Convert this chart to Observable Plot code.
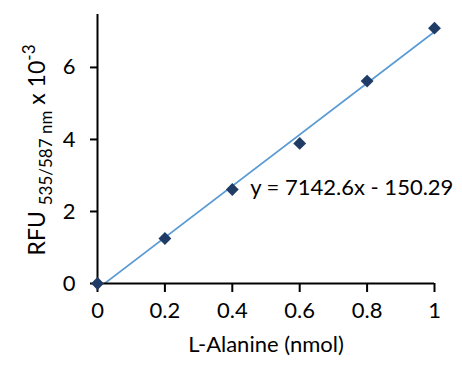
<!DOCTYPE html>
<html>
<head>
<meta charset="utf-8">
<script src="https://cdn.jsdelivr.net/npm/d3@7"></script>
<script src="https://cdn.jsdelivr.net/npm/@observablehq/plot@0.6"></script>
<style>
  html, body { margin: 0; padding: 0; background: #fff; }
  svg { font-family: Lato, "Open Sans", sans-serif; }
</style>
</head>
<body>
<div id="chart"></div>
<script>
const amounts = [0, 0.2, 0.4, 0.6, 0.8, 1.0];          // L-Alanine (nmol)
const rfu = [0, 1.25, 2.61, 3.89, 5.62, 7.09];          // RFU x 10^-3
const xTicks = [0, 0.2, 0.4, 0.6, 0.8, 1];
const yTicks = [0, 2, 4, 6];
const slope = 7142.6, intercept = -150.29;              // trendline (RFU)
const equation = "y = 7142.6x - 150.29";
const eqPos = {x: 0.453, y: 2.66};

const points = amounts.map((x, i) => ({x, y: rfu[i]}));
const trend = [0, 1].map(x => ({x, y: (slope * x + intercept) / 1000}));

const font = "Lato, 'Open Sans', sans-serif";
const fs = 22;
const chart = Plot.plot({
  width: 462,
  height: 367,
  marginLeft: 97,
  marginRight: 28,
  marginTop: 14,
  marginBottom: 84,
  style: {fontFamily: font, background: "#fff"},
  x: {domain: [0, 1]},
  y: {domain: [0, 7.47]},
  marks: [
    Plot.line(trend, {x: "x", y: "y", stroke: "#5B9BD5", strokeWidth: 1.7, clip: true}),
    Plot.ruleX([0], {stroke: "#000", strokeWidth: 2}),
    Plot.ruleY([0], {stroke: "#000", strokeWidth: 2}),
    Plot.axisX({ticks: xTicks, tickFormat: d => String(d), tickSize: 9, tickPadding: 10, fontSize: fs, stroke: "#000", strokeWidth: 2, color: "#000", label: "L-Alanine (nmol)", labelAnchor: "center", labelArrow: "none", labelOffset: 68}),
    Plot.axisY({ticks: yTicks, tickSize: 7, tickPadding: 15, fontSize: fs, stroke: "#000", strokeWidth: 2, color: "#000", label: null}),
    Plot.dot(points, {x: "x", y: "y", symbol: "diamond2", r: 5.8, fill: "#1F3B66", stroke: "none"}),
    Plot.text([equation], {x: eqPos.x, y: eqPos.y, text: d => d, textAnchor: "start", fontSize: fs, fill: "#000"})
  ]
});

// Y axis title with subscript and superscript
const svg = d3.select(chart);
const t = svg.append("text")
  .attr("transform", "translate(45,150) rotate(-90)")
  .attr("text-anchor", "middle")
  .attr("font-size", 23)
  .attr("fill", "#000")
  .attr("font-family", font);
t.append("tspan").text("RFU ");
t.append("tspan").attr("font-size", 17).attr("dy", 7).text("535/587 nm");
t.append("tspan").attr("dy", -7).text(" x 10");
t.append("tspan").attr("font-size", 17).attr("dy", -10).text("-3");

document.getElementById("chart").appendChild(chart);
</script>
</body>
</html>
